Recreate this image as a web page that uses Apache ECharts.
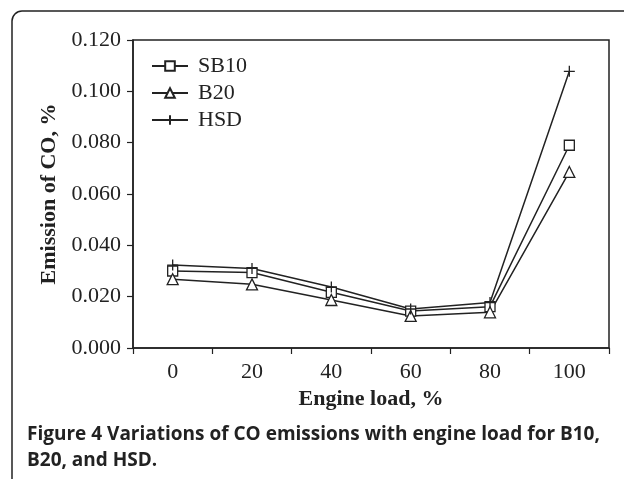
<!DOCTYPE html>
<html>
<head>
<meta charset="utf-8">
<script src="https://cdn.jsdelivr.net/npm/echarts@6/dist/echarts.min.js"></script>
<style>
  html, body { margin: 0; padding: 0; background: #fff; }
  #main { width: 624px; height: 479px; }
</style>
</head>
<body>
<div id="main"></div>
<script>
// engine load categories (%)
const loads = ['0', '20', '40', '60', '80', '100'];
// CO emission, %
const sb10 = [0.0300, 0.0294, 0.0217, 0.0144, 0.0161, 0.0790];
const b20 = [0.0268, 0.0248, 0.0187, 0.0125, 0.0139, 0.0686];
const hsd = [0.0323, 0.0310, 0.0238, 0.0152, 0.0177, 0.1078];

const ink = '#222';
const serif = '"Liberation Serif", "DejaVu Serif", serif';
const plusPath = 'path://M0,5L10,5M5,0L5,10';

function mkSeries(name, data, symbol, size) {
    return {
        name: name,
        type: 'line',
        data: data,
        symbol: symbol,
        symbolSize: size,
        showAllSymbol: true,
        lineStyle: { color: ink, width: 1.5 },
        itemStyle: { color: '#fff', borderColor: ink, borderWidth: 1.3 },
        emphasis: { disabled: true },
        z: 3
    };
}

var myChart = echarts.init(document.getElementById('main'), null, { renderer: 'canvas' });
var option = {
    backgroundColor: '#fff',
    animation: false,
    grid: {
        left: 133, top: 40, right: 15, bottom: 131,
        show: true, borderColor: ink, borderWidth: 1.5, backgroundColor: 'transparent'
    },
    legend: {
        left: 151, top: 55, orient: 'vertical', padding: 0,
        itemWidth: 36, itemHeight: 12, itemGap: 5,
        textStyle: { fontFamily: serif, fontSize: 22, color: ink, padding: [0, 0, 0, 5] },
        data: ['SB10', 'B20', 'HSD']
    },
    xAxis: {
        type: 'category',
        data: loads,
        boundaryGap: true,
        name: 'Engine load, %',
        nameLocation: 'middle',
        nameGap: 40,
        nameTextStyle: { fontFamily: serif, fontSize: 22, fontWeight: 'bold', color: ink },
        axisLine: { lineStyle: { color: ink, width: 1.5 } },
        axisTick: { show: true, length: 6, lineStyle: { color: ink, width: 1.2 } },
        axisLabel: { fontFamily: serif, fontSize: 22, color: ink, margin: 13, interval: 0 },
        splitLine: { show: false }
    },
    yAxis: {
        type: 'value',
        min: 0, max: 0.12, interval: 0.02,
        name: 'Emission of CO, %',
        nameLocation: 'middle',
        nameGap: 73,
        nameTextStyle: { fontFamily: serif, fontSize: 22, fontWeight: 'bold', color: ink },
        axisLine: { show: true, lineStyle: { color: ink, width: 1.5 } },
        axisTick: { show: true, length: 6, lineStyle: { color: ink, width: 1.2 } },
        axisLabel: {
            fontFamily: serif, fontSize: 22, color: ink, margin: 12,
            formatter: function (v) { return v.toFixed(3); }
        },
        splitLine: { show: false }
    },
    graphic: [
        {
            type: 'rect', silent: true, z: -1,
            shape: { x: 12, y: 11, width: 700, height: 520, r: 10 },
            style: { fill: 'none', stroke: ink, lineWidth: 1.5 }
        },
        {
            type: 'text', left: 27, top: 422, silent: true,
            style: {
                text: 'Figure 4 Variations of CO emissions with engine load for B10,\nB20, and HSD.',
                font: 'bold 19px "Open Sans", "DejaVu Sans", sans-serif',
                fill: ink, lineHeight: 26
            }
        }
    ],
    series: [
        mkSeries('SB10', sb10, 'rect', 10),
        mkSeries('B20', b20, 'triangle', 11),
        mkSeries('HSD', hsd, plusPath, 11)
    ]
};
myChart.setOption(option);
</script>
</body>
</html>
